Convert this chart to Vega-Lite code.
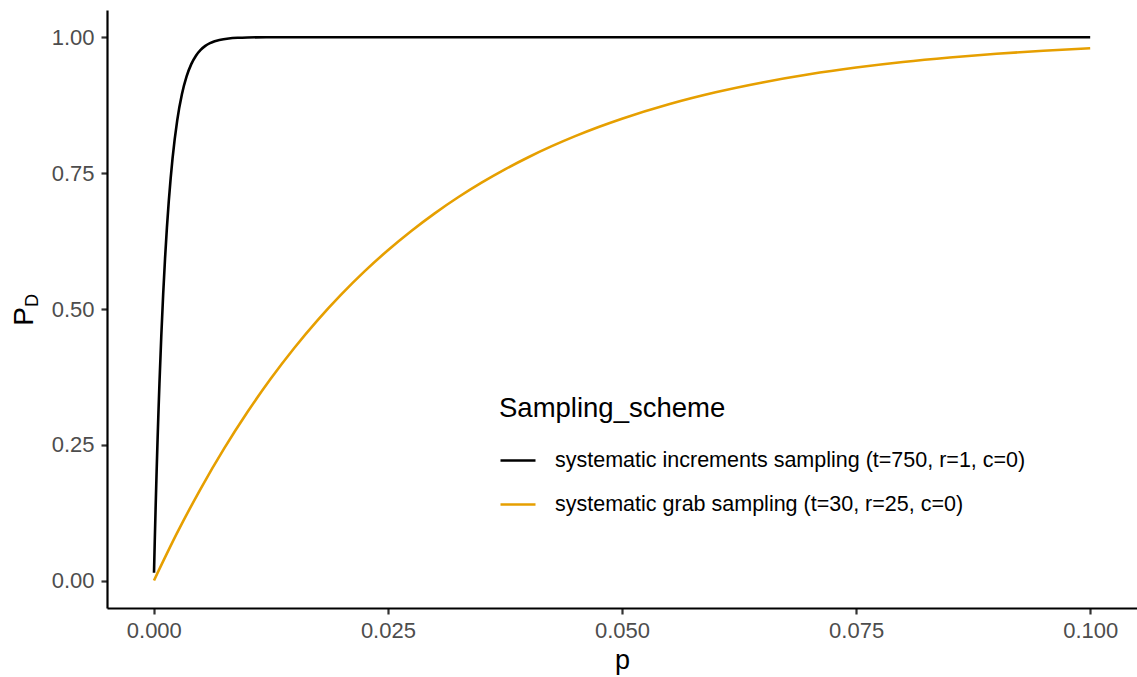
{
  "$schema": "https://vega.github.io/schema/vega-lite/v6.json",
  "width": 1030,
  "height": 598,
  "autosize": {"type": "none"},
  "padding": {"left": 107, "top": 10, "right": 0, "bottom": 69},
  "background": "white",
  "config": {
    "view": {"stroke": null},
    "font": "Liberation Sans",
    "axis": {"grid": false}
  },
  "data": {
    "values": [
      {"p": 0.00002, "PD": 0.0149, "scheme": "systematic increments sampling (t=750, r=1, c=0)"},
      {"p": 0.0001, "PD": 0.0723, "scheme": "systematic increments sampling (t=750, r=1, c=0)"},
      {"p": 0.0002, "PD": 0.1393, "scheme": "systematic increments sampling (t=750, r=1, c=0)"},
      {"p": 0.0003, "PD": 0.2015, "scheme": "systematic increments sampling (t=750, r=1, c=0)"},
      {"p": 0.0004, "PD": 0.2592, "scheme": "systematic increments sampling (t=750, r=1, c=0)"},
      {"p": 0.0005, "PD": 0.3127, "scheme": "systematic increments sampling (t=750, r=1, c=0)"},
      {"p": 0.0006, "PD": 0.3624, "scheme": "systematic increments sampling (t=750, r=1, c=0)"},
      {"p": 0.0008, "PD": 0.4512, "scheme": "systematic increments sampling (t=750, r=1, c=0)"},
      {"p": 0.001, "PD": 0.5276, "scheme": "systematic increments sampling (t=750, r=1, c=0)"},
      {"p": 0.0012, "PD": 0.5934, "scheme": "systematic increments sampling (t=750, r=1, c=0)"},
      {"p": 0.0014, "PD": 0.6501, "scheme": "systematic increments sampling (t=750, r=1, c=0)"},
      {"p": 0.0016, "PD": 0.6988, "scheme": "systematic increments sampling (t=750, r=1, c=0)"},
      {"p": 0.0018, "PD": 0.7408, "scheme": "systematic increments sampling (t=750, r=1, c=0)"},
      {"p": 0.002, "PD": 0.7769, "scheme": "systematic increments sampling (t=750, r=1, c=0)"},
      {"p": 0.0025, "PD": 0.847, "scheme": "systematic increments sampling (t=750, r=1, c=0)"},
      {"p": 0.003, "PD": 0.8949, "scheme": "systematic increments sampling (t=750, r=1, c=0)"},
      {"p": 0.0035, "PD": 0.9279, "scheme": "systematic increments sampling (t=750, r=1, c=0)"},
      {"p": 0.004, "PD": 0.9505, "scheme": "systematic increments sampling (t=750, r=1, c=0)"},
      {"p": 0.0045, "PD": 0.966, "scheme": "systematic increments sampling (t=750, r=1, c=0)"},
      {"p": 0.005, "PD": 0.9767, "scheme": "systematic increments sampling (t=750, r=1, c=0)"},
      {"p": 0.0055, "PD": 0.984, "scheme": "systematic increments sampling (t=750, r=1, c=0)"},
      {"p": 0.006, "PD": 0.989, "scheme": "systematic increments sampling (t=750, r=1, c=0)"},
      {"p": 0.0065, "PD": 0.9925, "scheme": "systematic increments sampling (t=750, r=1, c=0)"},
      {"p": 0.007, "PD": 0.9948, "scheme": "systematic increments sampling (t=750, r=1, c=0)"},
      {"p": 0.008, "PD": 0.9976, "scheme": "systematic increments sampling (t=750, r=1, c=0)"},
      {"p": 0.009, "PD": 0.9989, "scheme": "systematic increments sampling (t=750, r=1, c=0)"},
      {"p": 0.01, "PD": 0.9995, "scheme": "systematic increments sampling (t=750, r=1, c=0)"},
      {"p": 0.012, "PD": 0.9999, "scheme": "systematic increments sampling (t=750, r=1, c=0)"},
      {"p": 0.015, "PD": 1.0, "scheme": "systematic increments sampling (t=750, r=1, c=0)"},
      {"p": 0.02, "PD": 1.0, "scheme": "systematic increments sampling (t=750, r=1, c=0)"},
      {"p": 0.05, "PD": 1.0, "scheme": "systematic increments sampling (t=750, r=1, c=0)"},
      {"p": 0.1, "PD": 1.0, "scheme": "systematic increments sampling (t=750, r=1, c=0)"},
      {"p": 0.00002, "PD": 0.0007, "scheme": "systematic grab sampling (t=30, r=25, c=0)"},
      {"p": 0.0025, "PD": 0.0885, "scheme": "systematic grab sampling (t=30, r=25, c=0)"},
      {"p": 0.005, "PD": 0.1693, "scheme": "systematic grab sampling (t=30, r=25, c=0)"},
      {"p": 0.0075, "PD": 0.2431, "scheme": "systematic grab sampling (t=30, r=25, c=0)"},
      {"p": 0.01, "PD": 0.3105, "scheme": "systematic grab sampling (t=30, r=25, c=0)"},
      {"p": 0.0125, "PD": 0.3721, "scheme": "systematic grab sampling (t=30, r=25, c=0)"},
      {"p": 0.015, "PD": 0.4283, "scheme": "systematic grab sampling (t=30, r=25, c=0)"},
      {"p": 0.0175, "PD": 0.4796, "scheme": "systematic grab sampling (t=30, r=25, c=0)"},
      {"p": 0.02, "PD": 0.5264, "scheme": "systematic grab sampling (t=30, r=25, c=0)"},
      {"p": 0.0225, "PD": 0.5692, "scheme": "systematic grab sampling (t=30, r=25, c=0)"},
      {"p": 0.025, "PD": 0.6081, "scheme": "systematic grab sampling (t=30, r=25, c=0)"},
      {"p": 0.0275, "PD": 0.6436, "scheme": "systematic grab sampling (t=30, r=25, c=0)"},
      {"p": 0.03, "PD": 0.676, "scheme": "systematic grab sampling (t=30, r=25, c=0)"},
      {"p": 0.0325, "PD": 0.7055, "scheme": "systematic grab sampling (t=30, r=25, c=0)"},
      {"p": 0.035, "PD": 0.7324, "scheme": "systematic grab sampling (t=30, r=25, c=0)"},
      {"p": 0.0375, "PD": 0.7569, "scheme": "systematic grab sampling (t=30, r=25, c=0)"},
      {"p": 0.04, "PD": 0.7792, "scheme": "systematic grab sampling (t=30, r=25, c=0)"},
      {"p": 0.0425, "PD": 0.7995, "scheme": "systematic grab sampling (t=30, r=25, c=0)"},
      {"p": 0.045, "PD": 0.818, "scheme": "systematic grab sampling (t=30, r=25, c=0)"},
      {"p": 0.0475, "PD": 0.8348, "scheme": "systematic grab sampling (t=30, r=25, c=0)"},
      {"p": 0.05, "PD": 0.8501, "scheme": "systematic grab sampling (t=30, r=25, c=0)"},
      {"p": 0.055, "PD": 0.8767, "scheme": "systematic grab sampling (t=30, r=25, c=0)"},
      {"p": 0.06, "PD": 0.8987, "scheme": "systematic grab sampling (t=30, r=25, c=0)"},
      {"p": 0.065, "PD": 0.9168, "scheme": "systematic grab sampling (t=30, r=25, c=0)"},
      {"p": 0.07, "PD": 0.9318, "scheme": "systematic grab sampling (t=30, r=25, c=0)"},
      {"p": 0.075, "PD": 0.9441, "scheme": "systematic grab sampling (t=30, r=25, c=0)"},
      {"p": 0.08, "PD": 0.9543, "scheme": "systematic grab sampling (t=30, r=25, c=0)"},
      {"p": 0.085, "PD": 0.9626, "scheme": "systematic grab sampling (t=30, r=25, c=0)"},
      {"p": 0.09, "PD": 0.9695, "scheme": "systematic grab sampling (t=30, r=25, c=0)"},
      {"p": 0.095, "PD": 0.9751, "scheme": "systematic grab sampling (t=30, r=25, c=0)"},
      {"p": 0.1, "PD": 0.9797, "scheme": "systematic grab sampling (t=30, r=25, c=0)"}
    ]
  },
  "layer": [
    {
      "mark": {"type": "line", "strokeWidth": 2.6, "interpolate": "monotone"},
      "encoding": {
        "x": {
          "field": "p",
          "type": "quantitative",
          "scale": {"domain": [-0.005, 0.105], "nice": false, "zero": false},
          "axis": {
            "title": "p",
            "values": [0, 0.025, 0.05, 0.075, 0.1],
            "format": ".3f",
            "domainColor": "#000000",
            "domainWidth": 2.2,
            "tickColor": "#333333",
            "tickWidth": 2.2,
            "tickSize": 6,
            "labelFontSize": 22,
            "labelColor": "#4D4D4D",
            "labelPadding": 6,
            "labelFlush": false,
            "labelOverlap": false,
            "titleFontSize": 27,
            "titleFontWeight": "normal",
            "titleColor": "#000000",
            "titleBaseline": "alphabetic",
            "titleX": 515,
            "titleY": 60
          }
        },
        "y": {
          "field": "PD",
          "type": "quantitative",
          "scale": {"domain": [-0.05, 1.05], "nice": false, "zero": false},
          "axis": {
            "orient": "left",
            "title": "P",
            "values": [0, 0.25, 0.5, 0.75, 1],
            "format": ".2f",
            "domainColor": "#000000",
            "domainWidth": 2.2,
            "tickColor": "#333333",
            "tickWidth": 2.2,
            "tickSize": 6,
            "labelFontSize": 22,
            "labelColor": "#4D4D4D",
            "labelPadding": 7,
            "labelFlush": false,
            "labelOverlap": false,
            "titleFontSize": 28,
            "titleFontWeight": "normal",
            "titleColor": "#000000",
            "titleAngle": 270,
            "titleAlign": "center",
            "titleBaseline": "alphabetic",
            "titleX": -75,
            "titleY": 306
          }
        },
        "color": {
          "field": "scheme",
          "type": "nominal",
          "scale": {
            "domain": ["systematic increments sampling (t=750, r=1, c=0)", "systematic grab sampling (t=30, r=25, c=0)"],
            "range": ["#000000", "#E69F00"]
          },
          "legend": {
            "title": "Sampling_scheme",
            "orient": "none",
            "legendX": 392,
            "legendY": 385,
            "padding": 0,
            "titleFontSize": 27.5,
            "titleFontWeight": "normal",
            "titleColor": "#000000",
            "titleLimit": 0,
            "titlePadding": 19,
            "labelFontSize": 21.5,
            "labelColor": "#000000",
            "labelOffset": 18,
            "symbolType": "stroke",
            "symbolSize": 1225,
            "symbolStrokeWidth": 2.6,
            "rowPadding": 14,
            "labelLimit": 0
          }
        }
      }
    },
    {
      "mark": {"type": "point", "opacity": 0},
      "encoding": {
        "y": {
          "field": "PD",
          "type": "quantitative",
          "scale": {"domain": [-0.05, 1.05], "nice": false, "zero": false},
          "axis": {
            "orient": "left",
            "title": "D",
            "labels": false,
            "ticks": false,
            "domain": false,
            "grid": false,
            "titleFontSize": 18,
            "titleFontWeight": "normal",
            "titleColor": "#000000",
            "titleAngle": 270,
            "titleAlign": "center",
            "titleBaseline": "alphabetic",
            "titleX": -70,
            "titleY": 290
          }
        }
      }
    }
  ],
  "resolve": {"axis": {"y": "independent"}}
}
